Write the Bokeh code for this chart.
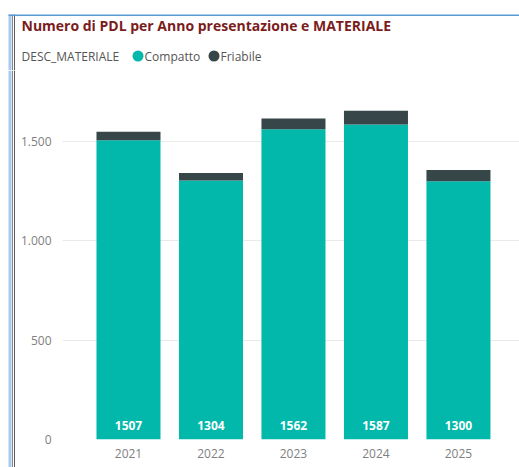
from bokeh.plotting import figure
from bokeh.layouts import row, column
from bokeh.models import (ColumnDataSource, Range1d, FixedTicker, LabelSet, Label,
                          BoxAnnotation)
from bokeh.core.properties import value
from bokeh.embed import file_html
from bokeh.resources import INLINE

years = [2021, 2022, 2023, 2024, 2025]
compatto = [1507, 1304, 1562, 1587, 1300]
friabile = [43, 38, 54, 69, 57]
series = ["Compatto", "Friabile"]
colors = ["#01B8AA", "#374649"]
y_ticks = [0, 500, 1000, 1500]
y_tick_labels = {0: "0", 500: "500", 1000: "1.000", 1500: "1.500"}
title_text = "Numero di PDL per Anno presentazione e MATERIALE"
legend_title = "DESC_MATERIALE"

BLUE = "#5B9BD5"
BORDER_LINES = [(8, 11, "#A9C9EE"), (11.5, 12.5, "#8A8A8A"), (13.5, 14.5, "#5E5E5E")]
STRIP_W, HEAD_H, TOTAL_W, TOTAL_H = 16, 70, 519, 467
W = TOTAL_W - STRIP_W
H = TOTAL_H - HEAD_H


def blank(width, height):
    f = figure(width=width, height=height, output_backend="svg", toolbar_location=None,
               x_range=Range1d(0, width), y_range=Range1d(height, 0),
               x_axis_type=None, y_axis_type=None, min_border=0)
    f.min_border_left = f.min_border_right = f.min_border_top = f.min_border_bottom = 0
    f.outline_line_color = None
    f.xgrid.visible = False
    f.ygrid.visible = False
    return f


# ---- header: frame border, title, legend ----
head = blank(TOTAL_W, HEAD_H)
for (l, r, c) in BORDER_LINES:
    head.add_layout(BoxAnnotation(left=l, right=r, top=14, bottom=HEAD_H,
                                  fill_color=c, fill_alpha=1, line_color=None))
head.add_layout(BoxAnnotation(left=8, right=TOTAL_W, top=14, bottom=15.6,
                              fill_color=BLUE, fill_alpha=1, line_color=None))
head.add_layout(Label(x=21, y=25, text=title_text, text_font="Open Sans",
                      text_font_style="bold", text_font_size="14px",
                      text_color="#7B1C1C", text_baseline="middle"))
head.add_layout(Label(x=21, y=55.5, text=legend_title, text_font="Open Sans",
                      text_font_size="12px", text_color="#555555",
                      text_baseline="middle"))
sw_x = [137.5, 213.5]
head.scatter(x=sw_x, y=[55.5] * len(series), marker="circle", size=11,
             color=colors, line_color=None)
for sx, s in zip(sw_x, series):
    head.add_layout(Label(x=sx + 6.5, y=55.5, text=s, text_font="Open Sans",
                          text_font_size="12px", text_color="#555555",
                          text_baseline="middle"))

# ---- left border strip ----
strip = blank(STRIP_W, H)
for (l, r, c) in BORDER_LINES:
    strip.add_layout(BoxAnnotation(left=l, right=r, top=0, bottom=H,
                                   fill_color=c, fill_alpha=1, line_color=None))

# ---- main chart ----
source = ColumnDataSource(dict(
    year=years, Compatto=compatto, Friabile=friabile,
    label=[str(v) for v in compatto], base=[0] * len(years),
))

p = figure(width=W, height=H, output_backend="svg", toolbar_location=None,
           x_range=Range1d(2020.2, 2025.74), y_range=Range1d(0, 1808),
           min_border_left=46, min_border_right=0, min_border_top=10,
           min_border_bottom=28)
p.outline_line_color = None

p.vbar_stack(series, x="year", width=0.776, color=colors, source=source,
             line_color=None)

p.add_layout(LabelSet(x="year", y="base", text="label", source=source,
                      text_align="center", text_baseline="alphabetic", y_offset=10,
                      text_color="white", text_font=value("Open Sans"),
                      text_font_style="bold", text_font_size="12px"))

p.xaxis.ticker = FixedTicker(ticks=years)
p.yaxis.ticker = FixedTicker(ticks=y_ticks)
p.yaxis.major_label_overrides = y_tick_labels
for ax in (p.xaxis[0], p.yaxis[0]):
    ax.axis_line_color = None
    ax.major_tick_line_color = None
    ax.minor_tick_line_color = None
    ax.major_tick_in = 0
    ax.major_tick_out = 0
    ax.major_label_text_color = "#808080"
    ax.major_label_text_font = "Open Sans"
    ax.major_label_text_font_size = "12px"
p.yaxis.major_label_standoff = 11
p.xaxis.major_label_standoff = 9
p.xgrid.grid_line_color = None
p.ygrid.grid_line_color = "#e9e9e9"
p.ygrid.ticker = FixedTicker(ticks=y_ticks)

layout = column(head, row(column(strip, spacing=0), p, spacing=0), spacing=0)
open("out.html", "w").write(file_html(layout, INLINE))
